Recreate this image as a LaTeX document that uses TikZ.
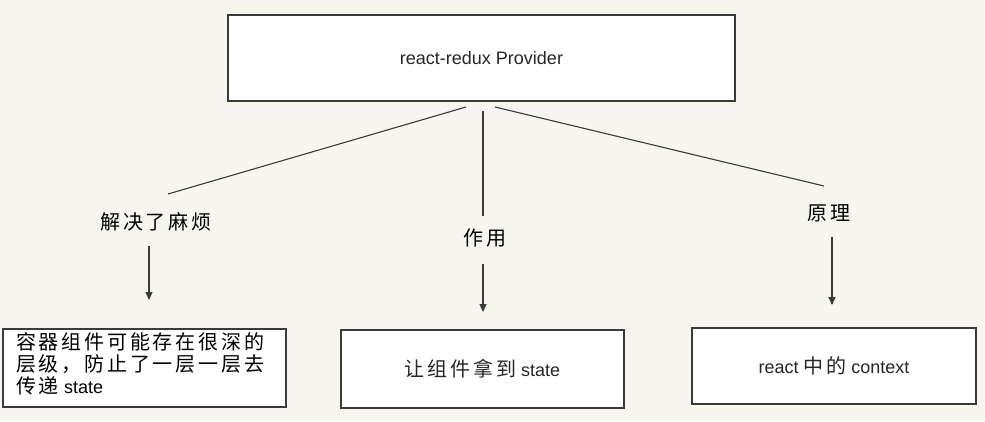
\documentclass[tikz,border=0pt]{standalone}
\usepackage{fontspec}
\setmainfont{Liberation Sans}
\newfontfamily\cjkfam[LetterSpace=14]{Noto Sans CJK SC}
\newcommand\zhtext[1]{{\cjkfam\fontsize{20}{23.5}\selectfont #1}}
\usetikzlibrary{arrows.meta}
\definecolor{bg}{HTML}{F6F5EE}
\definecolor{ln}{HTML}{3A3A3A}
\begin{document}
\begin{tikzpicture}[x=1pt,y=-1pt,
  box/.style={draw=ln, line width=1.3pt, fill=white, inner sep=0pt},
  lbl/.style={inner sep=0pt},
  conn/.style={draw=ln, line width=1.1pt},
  arr/.style={conn, -{Triangle[length=8pt,width=7pt]}},
  txt/.style={font=\fontsize{18}{22}\selectfont, text=black!85}]
\fill[bg] (0,0) rectangle (985,421);
\useasboundingbox (0,0) rectangle (985,421);

% top box
\node[box, txt, minimum width=507pt, minimum height=86pt] (top) at (481.5,58) {react-redux Provider};

% branch labels
\node[lbl] (l1) at (156,222) {\zhtext{解决了麻烦}};
\node[lbl] (l2) at (485,238) {\zhtext{作用}};
\node[lbl] (l3) at (829,213) {\zhtext{原理}};

% bottom boxes
\node[box, minimum width=283pt, minimum height=78pt] (b1) at (144.5,368) {};
\node[lbl, anchor=north west, align=left, txt, text=black] (b1t) at (16,332)
  {\zhtext{容器组件可能存在很深的}\\\zhtext{层级，防止了一层一层去}\\\zhtext{传递} state};
\node[box, txt, minimum width=283pt, minimum height=78pt] (b2) at (482.5,369) {\zhtext{让组件拿到} state};
\node[box, txt, minimum width=284pt, minimum height=76pt] (b3) at (834,366) {react \zhtext{中的} context};

% connector end points
\coordinate (t1) at (466,107);
\coordinate (e1) at (168,194);
\coordinate (t2) at (483,111);
\coordinate (e2) at (483,216);
\coordinate (t3) at (495,107);
\coordinate (e3) at (824,186);
\coordinate (a1s) at (149,246);
\coordinate (a1e) at (149,300);
\coordinate (a2s) at (483,264);
\coordinate (a2e) at (483,312);
\coordinate (a3s) at (832,237);
\coordinate (a3e) at (832,305);

\draw[conn] (t1) -- (e1);
\draw[conn] (t2) -- (e2);
\draw[conn] (t3) -- (e3);
\draw[arr] (a1s) -- (a1e);
\draw[arr] (a2s) -- (a2e);
\draw[arr] (a3s) -- (a3e);
\end{tikzpicture}
\end{document}
